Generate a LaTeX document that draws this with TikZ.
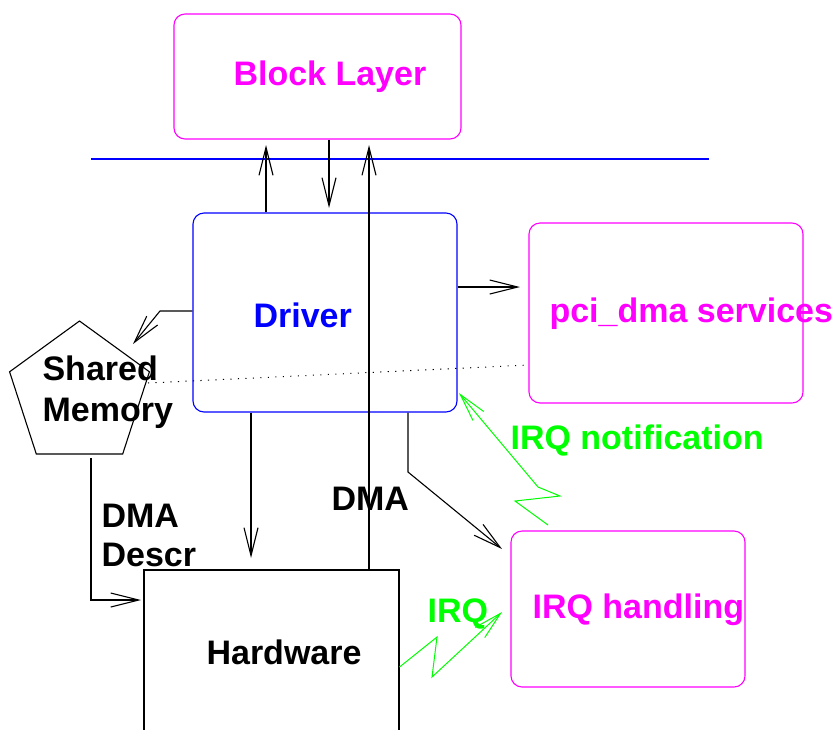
\documentclass[tikz,border=0pt]{standalone}
\usepackage{fontspec}
\setmainfont{Liberation Sans}
\usetikzlibrary{arrows.meta,shapes.geometric,calc}
\definecolor{mag}{RGB}{255,0,255}
\definecolor{blu}{RGB}{0,0,255}
\definecolor{grn}{RGB}{0,255,0}
\begin{document}
\begin{tikzpicture}[x=1pt,y=-1pt,
  line width=1.1pt,
  box/.style={draw,rounded corners=11pt,inner sep=0pt},
  lbl/.style={inner sep=0pt,anchor=base west,font=\fontsize{34}{40}\selectfont\bfseries},
  arr/.style={-{Straight Barb[length=28pt,width=14pt,line width=1.1pt]}},
  garr/.style={grn,line width=1pt,-{Straight Barb[length=28pt,width=14pt,line width=1pt]}}]
\clip (0,0) rectangle (837,729);
\fill[white] (0,0) rectangle (837,729);

% boxes
\node[box,mag,minimum width=287pt,minimum height=125pt] (blk) at (317.5,76.5) {};
\node[box,blu,minimum width=264pt,minimum height=199pt] (drv) at (325,312.5) {};
\node[box,mag,minimum width=274pt,minimum height=180pt] (pci) at (666,313) {};
\node[box,mag,minimum width=234pt,minimum height=156pt] (irq) at (628,609) {};
\node[draw,regular polygon,regular polygon sides=5,minimum size=147pt,inner sep=0pt] (shm) at (79.5,394.5) {};
% hardware box runs off the bottom edge
\node[draw,minimum width=255pt,minimum height=220pt,inner sep=0pt] (hw) at (271.5,680) {};

% layer separator
\draw[blu,line width=1.2pt] (91,159) -- (709,159);

% labels
\node[lbl,mag] (tblk) at (233,85) {Block Layer};
\node[lbl,blu] (tdrv) at (253,327) {Driver};
\node[lbl,mag] (tpci) at (549,322) {pci\_dma services};
\node[lbl] (tsh1) at (42,380) {Shared};
\node[lbl] (tsh2) at (42,421) {Memory};
\node[lbl,grn] (tnot) at (510,449) {IRQ notification};
\node[lbl] (tdd1) at (101,527) {DMA};
\node[lbl] (tdd2) at (101,566) {Descr};
\node[lbl] (tdma) at (331,510) {DMA};
\node[lbl] (thw) at (206,664) {Hardware};
\node[lbl,grn] (tirq) at (427,622) {IRQ};
\node[lbl,mag] (tirh) at (532,618) {IRQ handling};

% free ends of connectors
\coordinate (upA) at (266,145);
\coordinate (dnB) at (329,208);
\coordinate (dmaT) at (369,145);
\coordinate (pciL) at (520,287);
\coordinate (shmT) at (133,344);
\coordinate (hwT) at (251,558);
\coordinate (hwL) at (141,600);
\coordinate (irqT) at (502,549);
\coordinate (notT) at (459,393);
\coordinate (irqA) at (502,612);

% driver <-> block layer
\draw[arr] (drv.north -| upA) -- (upA);
\draw[arr] (blk.south -| dnB) -- (dnB);
\draw[arr] (hw.north -| dmaT) -- (dmaT);

% driver -> services
\draw[arr] (drv.east |- pciL) -- (pciL);

% driver -> shared memory
\draw[arr] (drv.west |- 0,311) -- (160,311) -- (shmT);

% shared memory -> hardware (descriptors)
\draw[arr] (91,458) -- (91,600) -- (hwL);

% driver -> hardware
\draw[arr] (drv.south -| hwT) -- (hwT);

% driver -> IRQ handling
\draw[arr] (drv.south -| 408,0) -- (408,472) -- (irqT);

% dotted link shared memory ... services
\draw[line width=1pt,dash pattern=on 1.1pt off 6.4pt] (148,383) -- (pci.west |- 0,365);

% interrupt zig-zags
\draw[garr] (548,525) -- (515,501) -- (560,496) -- (538,487) -- (notT);
\draw[garr] (hw.east |- 0,667) -- (437,637) -- (432,677) -- (irqA);
\end{tikzpicture}
\end{document}
